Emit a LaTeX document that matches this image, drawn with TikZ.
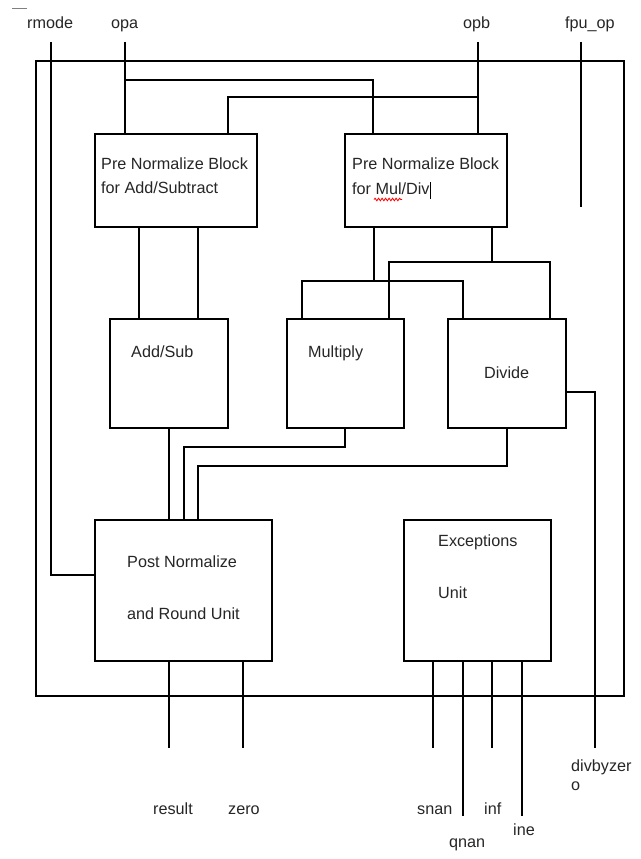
\documentclass[tikz,border=0pt]{standalone}
\usepackage{fontspec}
\setmainfont{Liberation Sans}
\usetikzlibrary{decorations.pathmorphing}
\begin{document}
\begin{tikzpicture}[x=1pt,y=-1pt,
  wire/.style={line width=1.4pt, black},
  blk/.style={draw, line width=1.4pt, inner sep=0pt},
  lbl/.style={anchor=base west, inner sep=0pt, text=black!85, font=\fontsize{16.2}{19}\selectfont}]
\useasboundingbox[fill=white] (0,0) rectangle (640,859);

% top-left mark
\draw[gray, line width=0.8pt] (12,8) -- (27,8);

% outer frame
\node[blk, minimum width=588pt, minimum height=635pt] (frame) at (330,378.5) {};

% blocks
\node[blk, minimum width=162pt, minimum height=93pt] (pna) at (176,180.5) {};
\node[blk, minimum width=162pt, minimum height=93pt] (pnm) at (426,180.5) {};
\node[blk, minimum width=118pt, minimum height=109pt] (add) at (169,373.5) {};
\node[blk, minimum width=117pt, minimum height=109pt] (mul) at (345.5,373.5) {};
\node[blk, minimum width=118pt, minimum height=109pt] (div) at (507,373.5) {};
\node[blk, minimum width=177pt, minimum height=141pt] (post) at (183.5,590.5) {};
\node[blk, minimum width=147pt, minimum height=141pt] (exc) at (477.5,590.5) {};

% block texts
\node[lbl] (tpna1) at (101,169) {Pre Normalize Block};
\node[lbl] (tpna2) at (101,193) {for Add/Subtract};
\node[lbl] (tpnm1) at (352,169) {Pre Normalize Block};
\node[lbl] (tpnm2) at (352,194) {for Mul/Div};
\draw[red, line width=0.8pt, decorate, decoration={snake, amplitude=1.3pt, segment length=3.5pt}] (374,199.5) -- (402,199.5);
\draw[black, line width=0.7pt] (430,182) -- (430,199);
\node[lbl] (tadd) at (131,357) {Add/Sub};
\node[lbl] (tmul) at (308,357) {Multiply};
\node[lbl] (tdiv) at (484,378) {Divide};
\node[lbl] (tpost1) at (127,567) {Post Normalize};
\node[lbl] (tpost2) at (127,619) {and Round Unit};
\node[lbl] (texc1) at (438,546) {Exceptions};
\node[lbl] (texc2) at (438,598) {Unit};

% port labels
\node[lbl] (lrmode) at (27,29) {rmode};
\node[lbl] (lopa) at (111,29) {opa};
\node[lbl] (lopb) at (463,29) {opb};
\node[lbl] (lfpu) at (565,29) {fpu\_op};
\node[lbl] (lres) at (153,814) {result};
\node[lbl] (lzero) at (228,814) {zero};
\node[lbl] (lsnan) at (417,814) {snan};
\node[lbl] (linf) at (484,814) {inf};
\node[lbl] (line) at (513,835) {ine};
\node[lbl] (lqnan) at (449,847) {qnan};
\node[lbl] (ldbz1) at (571,771) {divbyzer};
\node[lbl] (ldbz2) at (571,790) {o};

% coordinates
\coordinate (rmT) at (51,42);
\coordinate (postL) at (95,575);
\coordinate (opaT) at (125,42);
\coordinate (opaJ) at (125,80);
\coordinate (pnaA) at (125,134);
\coordinate (pnmA) at (373,134);
\coordinate (opbT) at (478,42);
\coordinate (opbJ) at (478,97);
\coordinate (pnmB) at (478,134);
\coordinate (pnaB) at (228,134);
\coordinate (fpuT) at (581,42);
\coordinate (fpuE) at (581,207);
\coordinate (pnaO1) at (139,227);
\coordinate (pnaO2) at (198,227);
\coordinate (addI1) at (139,319);
\coordinate (addI2) at (198,319);
\coordinate (pnmO1) at (374,227);
\coordinate (pnmJ1) at (374,281);
\coordinate (pnmO2) at (492,227);
\coordinate (pnmJ2) at (492,262);
\coordinate (mulA) at (302,319);
\coordinate (mulB) at (389,319);
\coordinate (divA) at (463,319);
\coordinate (divB) at (550,319);
\coordinate (addO) at (169,428);
\coordinate (postA) at (169,520);
\coordinate (mulO) at (345,428);
\coordinate (postB) at (184,520);
\coordinate (divO) at (507,428);
\coordinate (postC) at (198,520);
\coordinate (divR) at (566,392);
\coordinate (dbzE) at (595,748);
\coordinate (postO1) at (169,661);
\coordinate (resE) at (169,748);
\coordinate (postO2) at (243,661);
\coordinate (zeroE) at (243,748);
\coordinate (excO1) at (433,661);
\coordinate (snanE) at (433,748);
\coordinate (excO2) at (463,661);
\coordinate (qnanE) at (463,816);
\coordinate (excO3) at (492,661);
\coordinate (infE) at (492,748);
\coordinate (excO4) at (522,661);
\coordinate (ineE) at (522,816);

% connectors
\draw[wire] (rmT) |- (postL);
\draw[wire] (opaT) -- (pnaA);
\draw[wire] (opaJ) -| (pnmA);
\draw[wire] (opbT) -- (pnmB);
\draw[wire] (opbJ) -| (pnaB);
\draw[wire] (fpuT) -- (fpuE);
\draw[wire] (pnaO1) -- (addI1);
\draw[wire] (pnaO2) -- (addI2);
\draw[wire] (pnmO1) -- (pnmJ1);
\draw[wire] (mulA) -- (mulA |- pnmJ1) -- (divA |- pnmJ1) -- (divA);
\draw[wire] (pnmO2) -- (pnmJ2);
\draw[wire] (mulB) -- (mulB |- pnmJ2) -- (divB |- pnmJ2) -- (divB);
\draw[wire] (addO) -- (postA);
\draw[wire] (mulO) -- ++(0,19) -| (postB);
\draw[wire] (divO) -- ++(0,38) -| (postC);
\draw[wire] (divR) -| (dbzE);
\draw[wire] (postO1) -- (resE);
\draw[wire] (postO2) -- (zeroE);
\draw[wire] (excO1) -- (snanE);
\draw[wire] (excO2) -- (qnanE);
\draw[wire] (excO3) -- (infE);
\draw[wire] (excO4) -- (ineE);
\end{tikzpicture}
\end{document}
